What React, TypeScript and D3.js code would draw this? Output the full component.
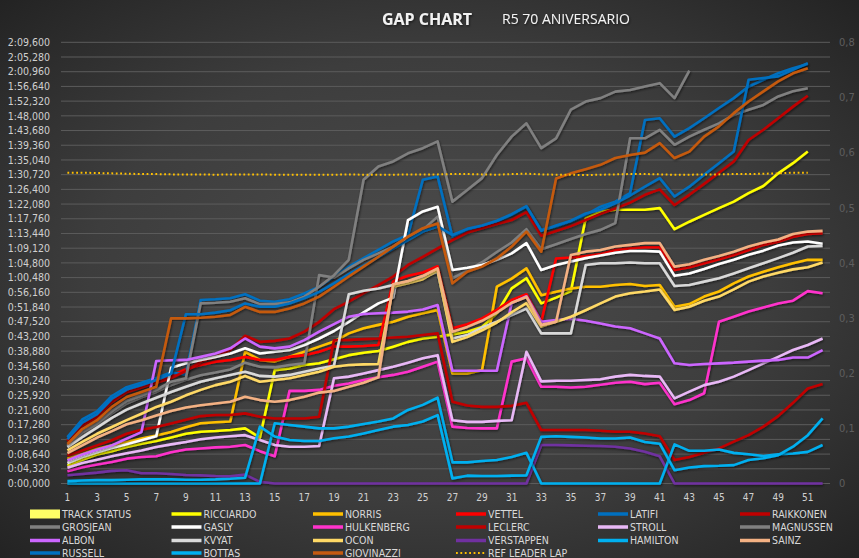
import React from 'react';
import * as d3 from 'd3';

const LAPS = [1,2,3,4,5,6,7,8,9,10,11,12,13,14,15,16,17,18,19,20,21,22,23,24,25,26,27,28,29,30,31,32,33,34,35,36,37,38,39,40,41,42,43,44,45,46,47,48,49,50,51,52];
const X_TICK_LAPS = [1,3,5,7,9,11,13,15,17,19,21,23,25,27,29,31,33,35,37,39,41,43,45,47,49,51];
const Y_TICKS = [0,4.32,8.64,12.96,17.28,21.6,25.92,30.24,34.56,38.88,43.2,47.52,51.84,56.16,60.48,64.8,69.12,73.44,77.76,82.08,86.4,90.72,95.04,99.36,103.68,108,112.32,116.64,120.96,125.28,129.6];
const Y2_TICKS = [0,0.1,0.2,0.3,0.4,0.5,0.6,0.7,0.8];

const TRACK_STATUS = [0,0,0,0,0,0,0,0,0,0,0,0,0,0,0,0,0,0,0,0,0,0,0,0,0,0,0,0,0,0,0,0,0,0,0,0,0,0,0,0,0,0,0,0,0,0,0,0,0,0,0,0];
const RICCIARDO = [5.3,7.0,8.5,9.5,10.7,11.7,12.5,13.5,14.6,15.2, 15.4,15.7,16.2,13.5,33.3,33.8,34.8,35.3,36.5,37.7, 38.4,38.9,40.2,41.6,42.6,43.1,43.8,44.6,46.0,50.0, 57.3,60.3,52.9,54.6,56.5,77.9,79.9,80.4,80.4,80.4, 80.9,74.7,76.9,78.9,80.9,82.8,85.3,87.4,91.1,94.1, 97.5,null];
const NORRIS = [7.3,8.7,10.2,11.2,12.2,13.2,14.1,15.1,16.5,17.7, 18.0,18.2,38.7,36.3,35.8,37.2,38.7,40.2,41.7,44.1, 45.6,46.6,47.5,49.0,50.0,51.0,32.3,32.3,33.3,57.8, 60.2,63.2,55.3,56.3,57.3,57.8,57.8,58.3,58.6,58.0, 58.3,51.9,52.7,54.9,56.4,58.8,60.8,62.2,63.5,64.7, 65.7,65.7];
const VETTEL = [12.8,17.5,20.0,24.4,27.0,28.4,29.9,31.6,33.6,34.8, 35.8,36.3,37.2,36.3,36.3,37.2,37.7,38.7,40.2,40.2, 40.4,40.7,59.5,61.0,62.0,63.8,45.6,46.8,48.5,51.0, 53.9,55.6,47.5,66.1,66.4,66.8,67.4,68.6,69.1,69.4, 69.4,62.7,63.5,64.7,65.9,67.1,68.6,70.1,71.0,72.5, 73.3,73.5];
const LATIFI = [13.6,18.8,21.2,25.7,28.3,29.6,31.0,32.6,32.0,53.9, 54.1,54.4,55.6,53.7,53.4,54.1,55.8,57.8,60.7,63.7, 66.2,68.6,71.1,73.0,89.2,90.2,72.5,74.5,75.5,77.0, 78.9,81.3,74.5,75.5,77.0,78.9,81.3,82.8,85.3,106.8, 107.3,101.9,104.4,107.3,110.3,113.2,116.6,118.6,120.5,122.0, 123.2,null];
const RAIKKONEN = [12.4,17.0,19.5,23.9,26.8,28.2,29.6,31.0,33.0,35.8, 37.2,39.2,43.4,41.6,41.9,42.6,44.6,47.5,51.2,53.4, 55.9,58.3,60.8,64.2,66.6,69.1,71.5,73.7,75.0,76.2, 77.4,79.7,72.8,74.2,75.6,77.4,79.2,80.8,82.5,84.8, 86.4,81.8,84.8,88.0,91.3,94.6,100.9,103.9,107.3,110.7, 113.9,null];
const GROSJEAN = [10.9,14.5,16.9,20.6,23.5,25.3,26.9,28.9,30.5,31.8, 32.6,33.5,35.5,34.3,34.1,34.8,35.3,61.2,60.5,63.2, 65.7,67.6,69.6,72.5,74.5,78.4,60.3,62.5,65.0,68.0, 70.8,74.7,68.8,70.3,71.8,73.3,74.5,76.5,101.4,101.4, 103.9,99.5,101.9,103.9,105.8,108.3,109.8,111.2,113.7,115.2, 116.1,null];
const GASLY = [6.0,7.8,9.2,10.4,11.5,12.7,13.9,34.0,35.3,36.3, 37.2,38.2,39.7,38.2,38.7,39.2,40.7,42.6,44.8,47.5, 50.3,52.9,54.6,77.4,79.9,81.3,62.7,63.4,64.2,65.7, 67.6,70.6,62.7,64.2,65.2,66.2,67.0,67.8,68.3,68.3, 68.1,61.0,61.7,63.0,64.5,65.7,67.2,68.4,69.9,70.8, 71.1,70.4];
const HULKENBERG = [3.6,4.8,5.6,6.3,7.3,7.8,8.0,9.2,10.0,10.3, 10.6,10.8,11.3,9.5,8.0,27.2,27.2,27.5,28.7,29.4, 30.4,31.2,31.9,32.8,34.3,35.8,16.7,16.3,16.2,16.2, 35.8,36.8,28.4,28.4,28.2,28.4,29.0,29.6,29.9,29.2, 29.6,23.3,24.5,26.5,47.5,49.0,50.5,51.7,52.9,53.7, 56.5,55.9];
const LECLERC = [8.2,9.7,11.2,12.7,14.6,15.8,16.6,17.6,18.7,19.8, 20.1,20.1,20.6,19.6,19.1,19.1,19.1,19.6,42.1,42.2, 42.4,42.6,42.9,43.1,43.6,44.1,24.0,22.9,22.5,22.5, 22.8,23.7,15.7,15.7,15.7,15.7,15.5,15.2,15.2,14.7, 13.9,6.9,7.8,9.0,10.3,12.3,14.2,16.7,19.8,23.7, 27.9,29.2];
const STROLL = [4.6,6.0,7.0,8.0,8.9,9.7,10.7,11.5,12.2,13.0, 13.5,13.9,14.2,12.8,11.3,10.8,10.8,11.0,30.9,31.4, 32.3,33.3,34.3,35.5,36.8,37.7,18.6,18.1,18.1,18.4, 18.6,38.7,30.0,30.2,30.2,30.4,30.6,31.4,31.9,31.6, 31.4,25.0,27.0,28.9,29.9,31.4,33.3,35.3,37.2,39.2, 40.7,42.6];
const MAGNUSSEN = [11.1,15.1,17.6,21.3,24.3,25.9,27.5,29.9,30.9,52.9, 53.1,53.4,54.4,52.7,52.7,53.2,54.9,57.8,61.2,65.7, 89.2,93.1,94.6,97.0,98.5,100.5,82.8,86.2,89.7,96.5, 101.9,105.8,98.5,101.4,109.8,112.2,113.2,115.1,115.6,116.6, 117.6,113.2,121.3,null,null,null,null,null,null,null, null,null];
const ALBON = [6.8,8.5,9.9,11.2,13.2,15.1,36.0,36.2,36.3,37.2, 38.2,39.7,42.6,40.2,39.7,40.2,42.1,44.6,46.8,49.0, 49.8,50.0,50.2,50.5,51.1,52.4,33.1,33.1,33.1,33.1, 53.0,55.0,47.5,48.0,48.4,47.8,47.0,46.1,45.6,44.1, 42.6,35.3,34.8,35.1,35.3,35.5,35.8,36.1,36.3,37.0, 37.0,39.2];
const KVYAT = [10.7,13.6,16.4,19.3,21.7,23.5,25.2,26.9,28.4,29.9, 30.9,31.9,32.8,31.6,31.4,31.9,32.8,33.8,34.6,55.6, 56.6,57.3,58.3,59.3,60.5,62.2,42.6,43.6,45.8,47.5, 49.5,51.4,44.1,44.1,44.1,64.2,64.7,64.7,64.9,64.7, 64.7,58.0,58.3,59.3,60.3,61.7,63.2,64.7,66.2,67.8, 69.6,69.8];
const OCON = [9.7,12.2,14.6,16.6,18.6,20.5,22.5,24.0,25.9,27.5, 28.9,29.9,31.6,29.9,30.4,30.9,31.9,32.8,34.3,34.8, 35.0,35.1,57.8,58.8,60.0,62.6,41.6,43.0,45.0,47.3, 50.3,53.0,46.1,47.5,49.0,50.9,52.9,54.9,55.9,56.4, 57.0,51.0,51.9,53.7,54.9,57.0,59.3,60.8,61.9,62.9, 63.5,64.9];
const VERSTAPPEN = [2.4,2.8,3.2,3.7,3.9,3.0,3.0,2.8,2.5,2.4, 2.2,2.1,2.6,0.5,0,0,0,0,0,0, 0,0,0,0,0,0,0,0,0,0, 0,0,11.3,11.3,11.2,11.1,11.0,10.8,10.3,9.3, 8.0,0,0,0,0,0,0,0,0,0, 0,0];
const HAMILTON = [0,0,0,0,0,0,0,0,0,0, 0,0,0,0,17.7,17.2,16.7,16.2,16.2,16.7, 17.5,18.2,19.1,21.6,23.1,25.2,6.2,6.2,6.6,6.9, 7.8,9.0,0,0,0,0,0,0,0,0, 0,11.5,9.6,9.6,10.0,9.0,8.6,8.1,8.6,8.8, 9.3,11.3];
const SAINZ = [8.9,11.2,13.5,15.4,17.4,18.6,20.0,21.3,22.3,23.0, 23.5,24.0,25.5,24.5,24.0,24.5,25.5,26.7,27.2,28.4, 29.6,31.2,58.5,59.5,61.0,63.2,44.6,46.0,47.8,50.2, 53.1,54.8,46.6,47.5,67.1,68.1,68.6,69.6,70.1,70.6, 70.6,63.7,64.4,65.7,66.8,68.1,69.6,70.8,71.7,73.3, 74.0,74.2];
const RUSSELL = [13.0,17.9,20.4,24.9,27.6,28.9,30.4,32.2,49.7,49.7, 50.2,50.9,52.9,51.9,51.9,52.9,54.4,56.3,58.8,61.5, 64.0,66.5,69.0,71.5,74.0,75.5,73.0,74.8,75.8,77.2, 79.1,81.5,74.2,75.8,77.2,79.3,80.4,82.3,84.6,87.2, 89.7,84.3,87.2,90.7,94.1,97.5,118.6,119.1,119.6,121.5, 123.5,null];
const BOTTAS = [0.7,0.9,1.0,1.0,1.1,1.2,1.2,1.2,1.1,1.1, 1.2,1.4,1.7,16.7,13.8,12.8,12.5,12.5,13.3,13.8, 14.7,15.7,16.7,17.2,18.2,20.1,1.5,2.3,2.2,2.2, 2.3,2.4,13.7,13.9,13.7,13.5,13.2,13.2,13.5,12.2, 11.7,3.9,4.7,5.1,5.2,5.4,6.9,7.4,8.3,10.8, 14.2,19.1];
const GIOVINAZZI = [11.6,16.0,18.6,22.5,25.4,26.9,28.4,48.5,48.5,48.7, 49.0,49.5,51.9,50.4,50.4,51.4,52.9,54.9,57.8,60.8, 63.7,66.6,69.6,72.5,75.0,76.4,58.8,62.2,63.7,66.1, 69.6,74.0,68.1,89.6,91.1,92.3,93.6,95.6,96.5,97.2, 100.0,95.6,97.5,101.9,104.9,108.8,112.2,115.2,118.1,120.5, 122.0,null];
const REF_LEADER_LAP = [91.3,91.3,91.2,91.1,91.0,90.9,90.9,90.8,90.8,90.8, 90.7,90.8,90.8,90.8,90.7,90.7,90.7,90.7,90.7,90.8, 90.7,90.7,90.7,90.8,90.8,90.8,90.9,90.9,90.8,90.7, 90.9,91.0,90.8,90.7,90.7,90.6,90.7,90.8,90.9,90.9, 90.8,90.7,90.7,90.8,90.8,90.9,90.9,91.0,91.1,91.3, 91.3,null];

const SERIES_NAMES = ['TRACK STATUS','RICCIARDO','NORRIS','VETTEL','LATIFI','RAIKKONEN','GROSJEAN','GASLY','HULKENBERG','LECLERC','STROLL','MAGNUSSEN','ALBON','KVYAT','OCON','VERSTAPPEN','HAMILTON','SAINZ','RUSSELL','BOTTAS','GIOVINAZZI','REF LEADER LAP'];
const SERIES_VALUES = [TRACK_STATUS,RICCIARDO,NORRIS,VETTEL,LATIFI,RAIKKONEN,GROSJEAN,GASLY,HULKENBERG,LECLERC,STROLL,MAGNUSSEN,ALBON,KVYAT,OCON,VERSTAPPEN,HAMILTON,SAINZ,RUSSELL,BOTTAS,GIOVINAZZI,REF_LEADER_LAP];
const SERIES_COLORS = ['#ffff66','#ffff00','#ffc000','#ff0000','#0070c0','#c00000','#808080','#ffffff','#ff33cc','#c00000','#e8b8f6','#808080','#cc66ff','#d9d9d9','#ffd966','#7030a0','#00b0f0','#f4b183','#0070c0','#00b0f0','#c55a11','#ffc000'];

const W = 859;
const H = 558;
const FONT = "'Liberation Sans Narrow', 'DejaVu Sans Condensed', Roboto, sans-serif";

function fmtTime(v: number) {
  const ms = Math.round(v * 1000);
  const m = Math.floor(ms / 60000);
  const rem = ms % 60000;
  const s = Math.floor(rem / 1000);
  const f = rem % 1000;
  return `${m}:${String(s).padStart(2, '0')},${String(f).padStart(3, '0')}`;
}

export default function App() {
  const x = d3.scaleBand<number>().domain(LAPS).range([60, 830]);
  const cx = (lap: number) => (x(lap) as number) + x.bandwidth() / 2;
  const y = d3.scaleLinear().domain([0, 129.6]).range([483.5, 42.3]);
  const y2 = d3.scaleLinear().domain([0, 0.8]).range([483.5, 42.3]);

  const lineGen = d3
    .line<number | null>()
    .defined((v) => v != null)
    .x((_, i) => cx(LAPS[i]))
    .y((v) => y(v as number));

  const areaGen = d3
    .area<number>()
    .x((_, i) => cx(LAPS[i]))
    .y0(y2(0))
    .y1((v) => y2(v));

  const legendCols = [30, 171.5, 313, 456, 598, 740];
  const legendRows = [514, 527, 540.5, 553];

  return (
    <svg width={W} height={H} style={{ position: 'absolute', left: 0, top: 0, display: 'block' }}>
      <defs>
        <radialGradient id="bg" cx="0.5" cy="0.5" r="0.72">
          <stop offset="0" stopColor="#4d4d4d" />
          <stop offset="0.55" stopColor="#3d3d3d" />
          <stop offset="1" stopColor="#222222" />
        </radialGradient>
        <filter id="sh" x="-5%" y="-5%" width="110%" height="115%">
          <feDropShadow dx="0.8" dy="1.3" stdDeviation="1" floodColor="#000" floodOpacity="0.55" />
        </filter>
      </defs>
      <rect x={0} y={0} width={W} height={H} fill="url(#bg)" />

      {/* title */}
      <text x={427} y={25} textAnchor="middle" fontFamily="'Open Sans', sans-serif" fontWeight={700} fontSize={16} fill="#f2f2f2" filter="url(#sh)">GAP CHART</text>
      <text x={502} y={24} fontFamily="'Open Sans', sans-serif" fontSize={14} fill="#f2f2f2" filter="url(#sh)">R5 70 ANIVERSARIO</text>

      {/* gridlines */}
      {Y_TICKS.map((t) => (
        <line key={'g' + t} x1={61} x2={830} y1={y(t)} y2={y(t)} stroke="#5c5c5c" strokeWidth={1} />
      ))}

      {/* left axis labels */}
      {Y_TICKS.map((t) => (
        <text key={'l' + t} x={50} y={y(t)} dy="0.35em" textAnchor="end" fontFamily={FONT} fontSize={10.5} fill="#d0d0d0">
          {fmtTime(t)}
        </text>
      ))}

      {/* right axis labels */}
      {Y2_TICKS.map((t) => (
        <text key={'r' + t} x={839} y={y2(t)} dy="0.35em" fontFamily={FONT} fontSize={11} fill="#5e5e5e">
          {t === 0 ? '0' : String(t).replace('.', ',')}
        </text>
      ))}

      {/* x axis labels */}
      {X_TICK_LAPS.map((l) => (
        <text key={'x' + l} x={cx(l)} y={497} dy="0.35em" textAnchor="middle" fontFamily={FONT} fontSize={10} fill="#d0d0d0">
          {l}
        </text>
      ))}

      {/* track status on secondary axis */}
      <path d={areaGen(TRACK_STATUS) || ''} fill={SERIES_COLORS[0]} opacity={0.8} />

      {/* series lines */}
      {SERIES_VALUES.map((vals, i) => {
        if (i === 0) return null;
        const isRef = SERIES_NAMES[i] === 'REF LEADER LAP';
        return (
          <path
            key={SERIES_NAMES[i]}
            d={lineGen(vals as (number | null)[]) || ''}
            fill="none"
            stroke={SERIES_COLORS[i]}
            strokeWidth={isRef ? 2 : 2.6}
            strokeDasharray={isRef ? '1.8 2.6' : undefined}
            strokeLinejoin="round"
            filter={isRef ? undefined : 'url(#sh)'}
          />
        );
      })}

      {/* legend */}
      {SERIES_NAMES.map((name, i) => {
        const col = i % 6;
        const row = Math.floor(i / 6);
        const lx = legendCols[col];
        const ly = legendRows[row];
        return (
          <g key={'lg' + name}>
            {i === 0 ? (
              <rect x={lx} y={ly - 4.5} width={30} height={9} fill={SERIES_COLORS[i]} />
            ) : name === 'REF LEADER LAP' ? (
              <line x1={lx} x2={lx + 30} y1={ly} y2={ly} stroke={SERIES_COLORS[i]} strokeWidth={2} strokeDasharray="1.8 2.6" />
            ) : (
              <line x1={lx} x2={lx + 30} y1={ly} y2={ly} stroke={SERIES_COLORS[i]} strokeWidth={3.5} />
            )}
            <text x={lx + 32} y={ly} dy="0.35em" fontFamily={FONT} fontSize={10.5} fill="#d9d9d9">
              {name}
            </text>
          </g>
        );
      })}
    </svg>
  );
}
